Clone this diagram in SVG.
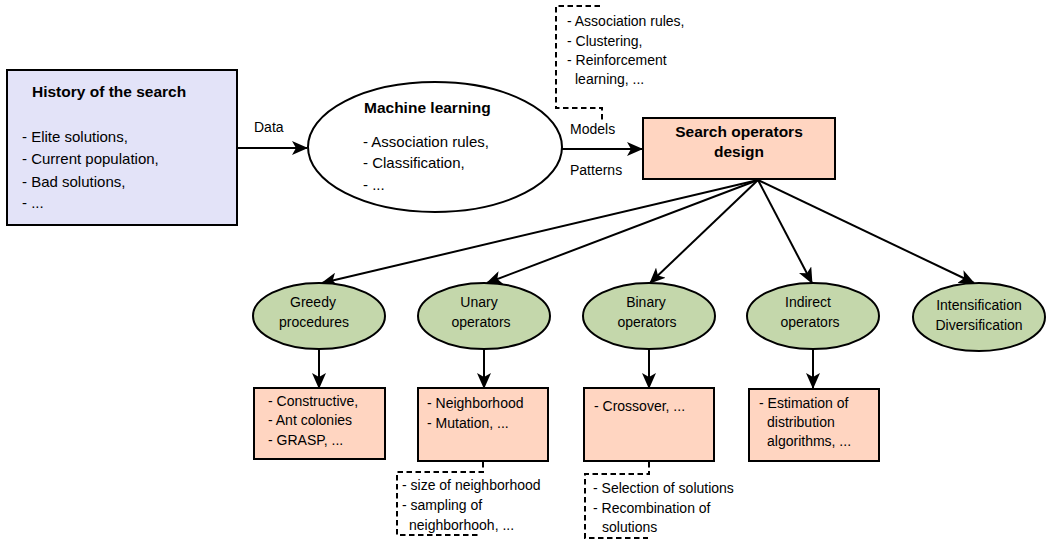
<svg xmlns="http://www.w3.org/2000/svg" width="1047" height="549" viewBox="0 0 1047 549">
<style>
text{font-family:"Liberation Sans",Arial,sans-serif;fill:#000}
.t{font-size:14px}
.m{font-size:15px}
.b{font-size:15.5px;font-weight:bold}
.box{stroke:#000;stroke-width:2}
.hist{fill:#E3E3F8}
.peach{fill:#FFD5C1}
.green{fill:#C4D7AB}
.ml{fill:#fff}
.edge{stroke:#000;stroke-width:2;fill:none;marker-end:url(#ah)}
.dash{stroke:#000;stroke-width:2;fill:none;stroke-dasharray:5.5 3.5}
</style>
<defs>
<marker id="ah" markerUnits="userSpaceOnUse" viewBox="0 0 16 14" markerWidth="16" markerHeight="14" refX="15" refY="7" orient="auto">
<path d="M0,0 L16,7 L0,14 L4,7 Z" fill="#000"/>
</marker>
</defs>
<rect width="1047" height="549" fill="#fff"/>

<g id="connectors">
<line class="edge" x1="237" y1="148" x2="307" y2="148"/>
<line class="edge" x1="562" y1="149" x2="642" y2="149"/>
<line class="edge" x1="758" y1="180" x2="322" y2="283"/>
<line class="edge" x1="758" y1="180" x2="487" y2="283"/>
<line class="edge" x1="758" y1="180" x2="650" y2="283"/>
<line class="edge" x1="758" y1="180" x2="812" y2="283"/>
<line class="edge" x1="758" y1="180" x2="974" y2="283"/>
<line class="edge" x1="319" y1="350" x2="319" y2="388"/>
<line class="edge" x1="484" y1="350" x2="484" y2="388"/>
<line class="edge" x1="649" y1="350" x2="649" y2="388"/>
<line class="edge" x1="813" y1="350" x2="813" y2="388"/>
<text class="t" x="254" y="132">Data</text>
<text class="t" x="570" y="134">Models</text>
<text class="t" x="570" y="175">Patterns</text>
</g>

<g id="history">
<rect class="box hist" x="7" y="70" width="230" height="155"/>
<text class="b" x="32" y="97">History of the search</text>
<text class="m" x="22" y="142">- Elite solutions,</text>
<text class="m" x="22" y="164">- Current population,</text>
<text class="m" x="22" y="187">- Bad solutions,</text>
<text class="m" x="22" y="208">- ...</text>
</g>

<g id="machine-learning">
<ellipse class="box ml" cx="435" cy="147" rx="127" ry="65"/>
<text class="b" x="364" y="113">Machine learning</text>
<text class="m" x="363" y="147">- Association rules,</text>
<text class="m" x="363" y="168">- Classification,</text>
<text class="m" x="363" y="190">- ...</text>
</g>

<g id="ml-note">
<path class="dash" d="M600,6 L556,6 L556,108 L602,108 L602,123"/>
<text class="t" x="567" y="26">- Association rules,</text>
<text class="t" x="567" y="46">- Clustering,</text>
<text class="t" x="567" y="65">- Reinforcement</text>
<text class="t" x="575" y="84">learning, ...</text>
</g>

<g id="search-operators">
<rect class="box peach" x="643" y="118" width="192" height="61"/>
<text class="b" x="739" y="137" text-anchor="middle">Search operators</text>
<text class="b" x="739" y="157" text-anchor="middle">design</text>
</g>

<g id="greedy">
<ellipse class="box green" cx="319" cy="316" rx="66" ry="33"/>
<text class="t" x="313" y="307" text-anchor="middle">Greedy</text>
<text class="t" x="314" y="327" text-anchor="middle">procedures</text>
</g>
<g id="unary">
<ellipse class="box green" cx="484" cy="316" rx="66" ry="33"/>
<text class="t" x="479" y="307" text-anchor="middle">Unary</text>
<text class="t" x="481" y="327" text-anchor="middle">operators</text>
</g>
<g id="binary">
<ellipse class="box green" cx="649" cy="316" rx="66" ry="33"/>
<text class="t" x="646" y="307" text-anchor="middle">Binary</text>
<text class="t" x="647" y="327" text-anchor="middle">operators</text>
</g>
<g id="indirect">
<ellipse class="box green" cx="813" cy="316" rx="66" ry="33"/>
<text class="t" x="808" y="307" text-anchor="middle">Indirect</text>
<text class="t" x="810" y="327" text-anchor="middle">operators</text>
</g>
<g id="intensification">
<ellipse class="box green" cx="979" cy="317" rx="66" ry="34"/>
<text class="t" x="979" y="310" text-anchor="middle">Intensification</text>
<text class="t" x="979" y="330" text-anchor="middle">Diversification</text>
</g>

<g id="greedy-box">
<rect class="box peach" x="254" y="388" width="131" height="71"/>
<text class="t" x="268" y="406">- Constructive,</text>
<text class="t" x="268" y="425">- Ant colonies</text>
<text class="t" x="268" y="445">- GRASP, ...</text>
</g>
<g id="unary-box">
<rect class="box peach" x="418" y="388" width="130" height="73"/>
<text class="t" x="427" y="408">- Neighborhood</text>
<text class="t" x="427" y="428">- Mutation, ...</text>
</g>
<g id="binary-box">
<rect class="box peach" x="584" y="388" width="130" height="73"/>
<text class="t" x="594" y="411">- Crossover, ...</text>
</g>
<g id="indirect-box">
<rect class="box peach" x="749" y="389" width="130" height="72"/>
<text class="t" x="759" y="408">- Estimation of</text>
<text class="t" x="767" y="427">distribution</text>
<text class="t" x="767" y="446">algorithms, ...</text>
</g>

<g id="unary-note">
<path class="dash" d="M483,462 L483,472 L397,472 L397,535 L481,535"/>
<text class="t" x="402" y="490">- size of neighborhood</text>
<text class="t" x="402" y="510">- sampling of</text>
<text class="t" x="409" y="530">neighborhooh, ...</text>
</g>
<g id="binary-note">
<path class="dash" d="M649,462 L649,474 L585,474 L585,538 L648,538"/>
<text class="t" x="593" y="493">- Selection of solutions</text>
<text class="t" x="593" y="513">- Recombination of</text>
<text class="t" x="602" y="532">solutions</text>
</g>
</svg>
